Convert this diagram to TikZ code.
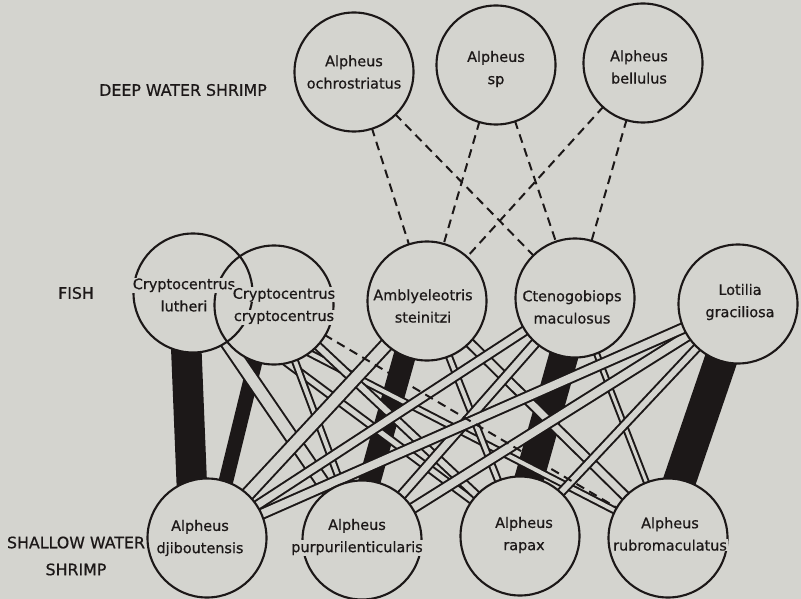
\documentclass[tikz,border=0pt]{standalone}
\usepackage{fontspec}
\setmainfont[FakeBold=0.7]{DejaVu Sans}
\usetikzlibrary{calc}
\definecolor{paper}{RGB}{212,212,207}
\definecolor{ink}{RGB}{28,24,24}
\pgfdeclarelayer{back}
\pgfdeclarelayer{links}
\pgfdeclarelayer{disks}
\pgfsetlayers{back,links,disks,main}
\newcommand\tx[1]{{\setlength{\fboxsep}{0.6pt}\colorbox{paper}{#1}}}
\tikzset{
  sp/.style={circle, draw=ink, line width=1.8pt, minimum size=35.7mm, inner sep=0pt},
  lbl/.style={align=center, font=\fontsize{12.3}{19}\selectfont, text=ink, inner sep=0pt},
  grp/.style={align=center, font=\fontsize{13.5}{23}\selectfont, text=ink, inner sep=0pt},
  blk/.style={draw=ink, line width=#1},
  wht/.style={draw=ink, line width=1.7pt, double=paper, double distance=#1},
  dsh/.style={draw=ink, line width=1.7pt, dash pattern=on 7.5pt off 5pt},
}
\begin{document}
\begin{tikzpicture}[x=0.3mm,y=-0.3mm]
                \useasboundingbox (0,0) rectangle (801,599);
                \begin{pgfonlayer}{back}
                \fill[paper] (0,0) rectangle (801,599);
                \end{pgfonlayer}

                % Deep water shrimp
                \node[sp] (O) at (354,72) {};
                \node[sp] (S) at (496,65) {};
                \node[sp] (B) at (643,63) {};

                % Fish
                \node[sp] (L) at (193,293) {};
                \node[sp] (C) at (274,305) {};
                \node[sp] (A) at (427,301) {};
                \node[sp] (T) at (575,298) {};
                \node[sp] (G) at (738,304) {};

                % Shallow water shrimp
                \node[sp] (D) at (207,538) {};
                \node[sp] (P) at (362,540) {};
                \node[sp] (R) at (520,536) {};
                \node[sp] (U) at (668,538) {};

                % Filling the circles
                \begin{pgfonlayer}{disks}
                \foreach \n in {O,S,B,L,C,A,T,G,D,P,R,U}
                  \fill[paper] (\n.center) circle[radius=17.85mm];
                \end{pgfonlayer}

                \begin{pgfonlayer}{links}
                % Drawing black bands
                \draw[blk=26pt] ($(L)+(-9,0)$) -- ($(D)+(-13,0)$);
                \draw[blk=12.5pt] ($(C)+(-5,0)$) -- ($(D)+(5,0)$);
                \draw[blk=19pt] ($(A)+(-7,0)$) -- ($(P)+(-9,0)$);
                \draw[blk=25pt] ($(T)+(5,0)$) -- ($(R)+(-7,0)$);
                \draw[blk=28pt] ($(G)+(2,0)$) -- ($(U)+(-8,0)$);

                % Drawing white bands from L and C
                \draw[wht=4.3pt] (L.center) -- (R.center);
                \draw[wht=3.4pt] (L.center) -- (U.center);
                \draw[wht=5pt] (C.center) -- (R.center);
                \draw[wht=3.4pt] (C.center) -- (P.center);
                \draw[wht=9.4pt] (L.center) -- (P.center);

                % Drawing white bands from A and T
                \draw[wht=3.4pt] (A.center) -- (R.center);
                \draw[wht=6pt] (A.center) -- (U.center);
                \draw[wht=6pt] (T.center) -- (P.center);
                \draw[wht=2.6pt] (T.center) -- (U.center);
                \draw[wht=9.4pt] (A.center) -- (D.center);
                \draw[wht=6pt] (T.center) -- (D.center);

                % Drawing white bands from G
                \draw[wht=5pt] (G.center) -- (R.center);
                \draw[wht=6.8pt] (G.center) -- (P.center);
                \draw[wht=6.8pt] (G.center) -- (D.center);

                % Drawing dashed lines
                \draw[dsh] (C.center) -- (U.center);
                \draw[dsh] (O.center) -- (A.center);
                \draw[dsh] (O.center) -- (T.center);
                \draw[dsh] (S.center) -- (A.center);
                \draw[dsh] (S.center) -- (T.center);
                \draw[dsh] (B.center) -- (A.center);
                \draw[dsh] (B.center) -- (T.center);
                \end{pgfonlayer}

                % Marking the species
                \node[lbl] (O-t) at (O) {\tx{Alpheus}\\\tx{ochrostriatus}};
                \node[lbl] (S-t) at ($(S)+(0,4)$) {\tx{Alpheus}\\\tx{sp}};
                \node[lbl] (B-t) at ($(B)+(-4,4)$) {\tx{Alpheus}\\\tx{bellulus}};
                \node[lbl] (L-t) at ($(L)+(-9,2)$) {\tx{Cryptocentrus}\\\tx{lutheri}};
                \node[lbl] (C-t) at ($(C)+(10,1)$) {\tx{Cryptocentrus}\\\tx{cryptocentrus}};
                \node[lbl] (A-t) at ($(A)+(-4,5)$) {\tx{Amblyeleotris}\\\tx{steinitzi}};
                \node[lbl] (T-t) at ($(T)+(-3,9)$) {\tx{Ctenogobiops}\\\tx{maculosus}};
                \node[lbl] (G-t) at ($(G)+(2,-2)$) {\tx{Lotilia}\\\tx{graciliosa}};
                \node[lbl] (D-t) at ($(D)+(-7,0)$) {\tx{Alpheus}\\\tx{djiboutensis}};
                \node[lbl] (P-t) at ($(P)+(-5,-3)$) {\tx{Alpheus}\\\tx{purpurilenticularis}};
                \node[lbl] (R-t) at ($(R)+(4,-1)$) {\tx{Alpheus}\\\tx{rapax}};
                \node[lbl] (U-t) at ($(U)+(2,-4)$) {\tx{Alpheus}\\\tx{rubromaculatus}};

                % Marking the groups
                \node[grp] (deep) at (183,90) {DEEP WATER SHRIMP};
                \node[grp] (fish) at (76,293) {FISH};
                \node[grp] (shallow) at (76,556) {SHALLOW WATER\\SHRIMP};
\end{tikzpicture}
\end{document}
